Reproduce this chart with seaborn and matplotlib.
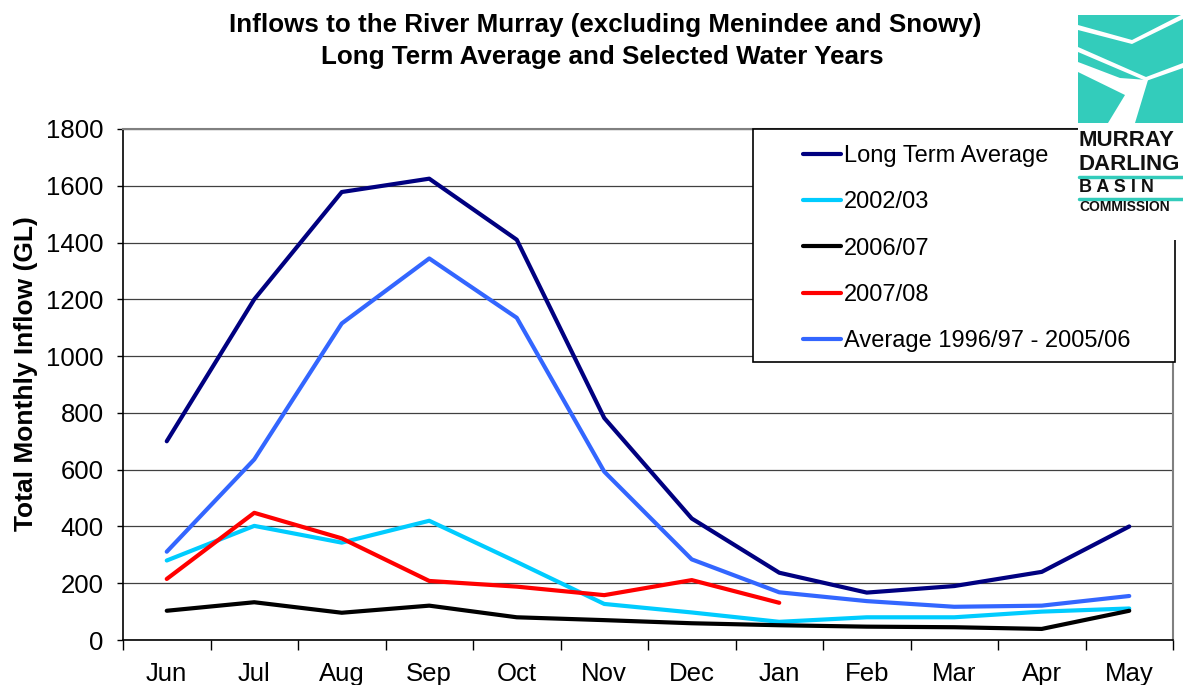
import numpy as np
import pandas as pd
import matplotlib
matplotlib.use("Agg")
import matplotlib.pyplot as plt
from matplotlib.patches import Rectangle, Polygon
from matplotlib.lines import Line2D
import seaborn as sns

# ============================================================
# DATA (GL per month)
# ============================================================

MONTHS = ["Jun", "Jul", "Aug", "Sep", "Oct", "Nov",
          "Dec", "Jan", "Feb", "Mar", "Apr", "May"]

long_term_avg = [700, 1200, 1578, 1625, 1410, 782, 428, 237, 167, 190, 240, 400]
wy_2002_03 = [280, 402, 343, 420, 275, 127, 97, 64, 80, 80, 100, 111]
wy_2006_07 = [103, 133, 96, 121, 80, 70, 59, 52, 47, 45, 39, 103]
wy_2007_08 = [215, 448, 358, 208, 188, 158, 211, 131]
avg_96_06 = [311, 636, 1115, 1344, 1135, 593, 284, 168, 137, 117, 121, 155]

SERIES = [
    ("Long Term Average", long_term_avg, "#000080"),
    ("2002/03", wy_2002_03, "#00CCFF"),
    ("2006/07", wy_2006_07, "#000000"),
    ("2007/08", wy_2007_08, "#FF0000"),
    ("Average 1996/97 - 2005/06", avg_96_06, "#3366FF"),
]

# ============================================================
# STYLE
# ============================================================

sns.set_style("white")
plt.rcParams["font.family"] = ["Liberation Sans", "DejaVu Sans"]
for key in ["text.color", "axes.labelcolor", "xtick.color", "ytick.color"]:
    plt.rcParams[key] = "black"

W, H = 1183, 685


def fx(x):
    return x / W


def fy(y):
    return 1 - y / H


# ============================================================
# LONG-FORM DATA
# ============================================================

rows = []
for name, vals, _ in SERIES:
    for m, v in zip(MONTHS, vals):
        rows.append({"Month": m, "Inflow": v, "Series": name})
df = pd.DataFrame(rows)
palette = {name: c for name, _, c in SERIES}

# ============================================================
# FIGURE
# ============================================================

fig = plt.figure(figsize=(W / 100, H / 100), dpi=100)
ax = fig.add_axes([fx(123), fy(640), fx(1173) - fx(123), fy(129) - fy(640)])

sns.lineplot(
    data=df, x="Month", y="Inflow", hue="Series",
    palette=palette, hue_order=[s[0] for s in SERIES],
    sort=False, linewidth=3, legend=False, ax=ax,
    solid_capstyle="round",
)

ax.set_xlim(-0.5, len(MONTHS) - 0.5)
ax.set_ylim(0, 1800)
ax.set_yticks(np.arange(0, 1801, 200))
ax.set_xticks(range(len(MONTHS)))
ax.set_xticklabels(MONTHS)
ax.set_xticks(np.arange(-0.5, len(MONTHS), 1), minor=True)
ax.tick_params(axis="x", which="major", length=0, pad=16, labelsize=18.5)
ax.tick_params(axis="x", which="minor", length=7, width=1, color="black",
               direction="out", bottom=True)
ax.tick_params(axis="y", length=4, width=1, direction="out", left=True,
               pad=10, labelsize=18.5)

ax.yaxis.grid(True, color="#404040", linewidth=0.9)
ax.set_axisbelow(True)

ax.set_xlabel("")
ax.set_ylabel("Total Monthly Inflow (GL)", fontsize=19, fontweight="bold")
ax.yaxis.set_label_coords(-0.081, 0.522)

for side in ["left", "bottom"]:
    ax.spines[side].set_color("black")
    ax.spines[side].set_linewidth(1.2)
for side in ["top", "right"]:
    ax.spines[side].set_color("#808080")
    ax.spines[side].set_linewidth(1.5)

# ============================================================
# TITLE
# ============================================================

fig.text(fx(605), fy(25), "Inflows to the River Murray (excluding Menindee and Snowy)",
         ha="center", va="center", fontsize=18.7, fontweight="bold")
fig.text(fx(602), fy(57), "Long Term Average and Selected Water Years",
         ha="center", va="center", fontsize=18.7, fontweight="bold")

# ============================================================
# LEGEND (frame drawn separately)
# ============================================================

fig.patches.append(Rectangle((fx(753), fy(362)), fx(1175) - fx(753),
                             fy(129) - fy(362), transform=fig.transFigure,
                             facecolor="white", edgecolor="black",
                             linewidth=1.2, zorder=5))
handles = [Line2D([0], [0], color=c, linewidth=3, solid_capstyle="round")
           for _, _, c in SERIES]
leg = fig.legend(handles, [s[0] for s in SERIES], loc="upper left",
                 bbox_to_anchor=(fx(803), fy(145)), frameon=False,
                 fontsize=17, handlelength=1.6, handletextpad=0.15,
                 labelspacing=1.03, borderpad=0, borderaxespad=0)
leg.set_zorder(6)

# ============================================================
# LOGO (rough re-drawing)
# ============================================================

teal = "#33CCBB"
fig.patches.append(Rectangle((fx(1078), fy(240)), fx(W) - fx(1078), fy(0) - fy(240),
                             transform=fig.transFigure, facecolor="white",
                             edgecolor="none", zorder=7))
fig.patches.append(Rectangle((fx(1078), fy(123)), fx(W) - fx(1078), fy(15) - fy(123),
                             transform=fig.transFigure, facecolor=teal,
                             edgecolor="none", zorder=8))
for pts in [
    [(1078, 25), (1132, 40), (1183, 14), (1183, 19), (1132, 44), (1078, 30)],
    [(1078, 47), (1146, 77), (1183, 63), (1183, 68), (1146, 81), (1078, 52)],
    [(1078, 62), (1120, 78), (1148, 80), (1135, 123), (1108, 123), (1125, 95),
     (1078, 72)],
]:
    fig.patches.append(Polygon([(fx(x), fy(y)) for x, y in pts],
                               transform=fig.transFigure, facecolor="white",
                               edgecolor="none", zorder=9))
for y, txt, sz in [(141, "MURRAY", 16), (165, "DARLING", 16),
                   (188, "B A S I N", 13), (207, "COMMISSION", 10)]:
    fig.text(fx(1079), fy(y), txt, ha="left", va="center", fontsize=sz,
             fontweight="bold", color="#111111", zorder=10)
for y in [177, 199]:
    fig.lines.append(Line2D([fx(1079), fx(W)], [fy(y), fy(y)],
                            transform=fig.transFigure, color=teal,
                            linewidth=2.5, zorder=10))

fig.savefig("out.png", dpi=100)
